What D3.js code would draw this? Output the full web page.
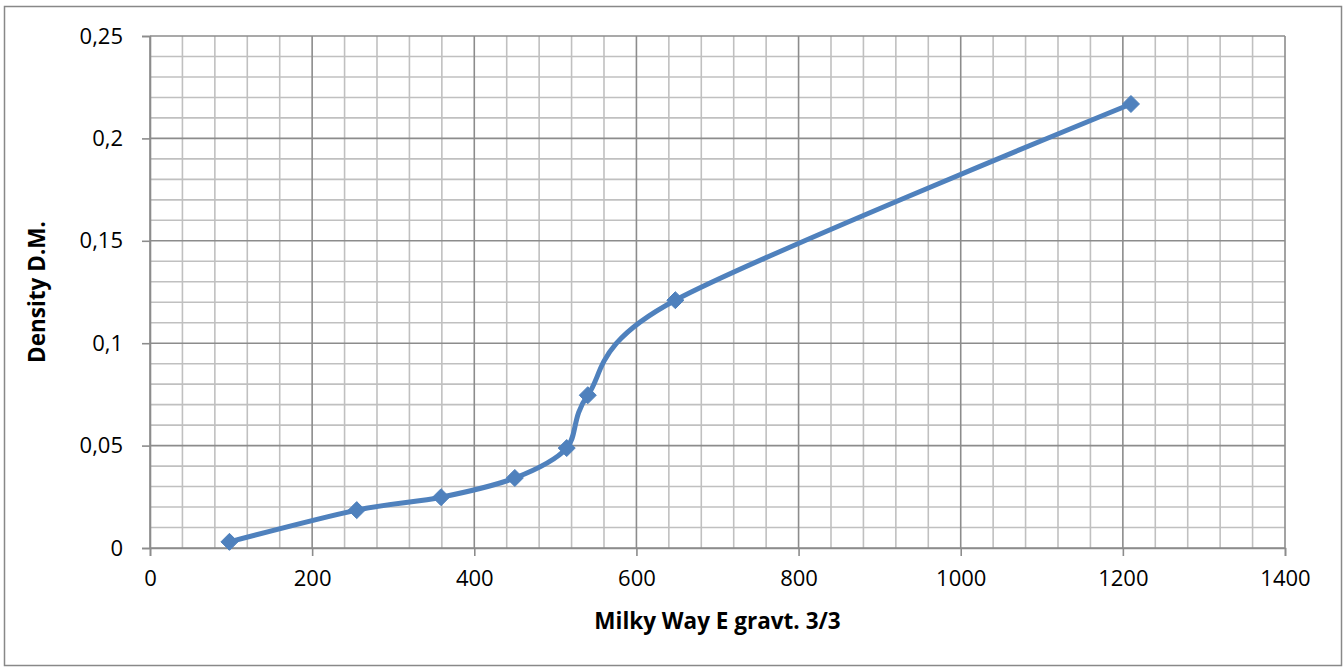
<!DOCTYPE html>
<html>
<head>
<meta charset="utf-8">
<script src="https://cdn.jsdelivr.net/npm/d3@7"></script>
<style>
  body { margin: 0; background: #fff; }
  text { font-family: "Open Sans", "Liberation Sans", sans-serif; fill: #000; }
</style>
</head>
<body>
<script>
var width = 1344;
var height = 668;

// data
var xValues = [98, 255, 359, 450, 514, 540, 648, 1210];
var yValues = [0.003, 0.0185, 0.0248, 0.0342, 0.0488, 0.0746, 0.121, 0.2168];
var xTicks = [0, 200, 400, 600, 800, 1000, 1200, 1400];
var yTicks = [0, 0.05, 0.1, 0.15, 0.2, 0.25];
var xTitle = "Milky Way E gravt. 3/3";
var yTitle = "Density D.M.";

var points = xValues.map(function(x, i) { return [x, yValues[i]]; });

var plotLeft = 150, plotRight = 1285, plotTop = 36, plotBottom = 548;

var xScale = d3.scaleLinear().domain([0, 1400]).range([plotLeft, plotRight]);
var yScale = d3.scaleLinear().domain([0, 0.25]).range([plotBottom, plotTop]);

var locale = d3.formatLocale({decimal: ",", thousands: ".", grouping: [3], currency: ["", ""]});
var fmt = function(d) { return locale.format("~g")(d); };

var svg = d3.select("body")
  .append("svg")
  .attr("width", width)
  .attr("height", height);

// outer chart border
svg.append("rect")
  .attr("x", 4.5).attr("y", 6.5)
  .attr("width", 1337).attr("height", 659)
  .attr("fill", "none")
  .attr("stroke", "#888")
  .attr("stroke-width", 1.5);

// minor grid
var minorX = d3.range(0, 1401, 40).filter(function(d) { return d % 200 !== 0; });
var minorY = d3.range(0, 26).filter(function(i) { return i % 5 !== 0; }).map(function(i) { return i / 100; });

svg.append("g").selectAll("line")
  .data(minorX)
  .enter().append("line")
  .attr("x1", function(d) { return xScale(d); })
  .attr("x2", function(d) { return xScale(d); })
  .attr("y1", plotTop).attr("y2", plotBottom)
  .attr("stroke", "#c0c0c0").attr("stroke-width", 1.6);

svg.append("g").selectAll("line")
  .data(minorY)
  .enter().append("line")
  .attr("x1", plotLeft).attr("x2", plotRight)
  .attr("y1", function(d) { return yScale(d); })
  .attr("y2", function(d) { return yScale(d); })
  .attr("stroke", "#c0c0c0").attr("stroke-width", 1.6);

// major grid
svg.append("g").selectAll("line")
  .data(xTicks)
  .enter().append("line")
  .attr("x1", function(d) { return xScale(d); })
  .attr("x2", function(d) { return xScale(d); })
  .attr("y1", plotTop).attr("y2", plotBottom)
  .attr("stroke", "#8c8c8c").attr("stroke-width", 1.6);

svg.append("g").selectAll("line")
  .data(yTicks)
  .enter().append("line")
  .attr("x1", plotLeft).attr("x2", plotRight)
  .attr("y1", function(d) { return yScale(d); })
  .attr("y2", function(d) { return yScale(d); })
  .attr("stroke", "#8c8c8c").attr("stroke-width", 1.6);

// axes
var xAxis = d3.axisBottom(xScale).tickValues(xTicks).tickSize(8).tickPadding(14).tickFormat(fmt);
var yAxis = d3.axisLeft(yScale).tickValues(yTicks).tickSize(8).tickPadding(19).tickFormat(fmt);

var gx = svg.append("g").attr("transform", "translate(0," + plotBottom + ")").call(xAxis);
var gy = svg.append("g").attr("transform", "translate(" + plotLeft + ",0)").call(yAxis);

[gx, gy].forEach(function(g) {
  g.attr("font-size", 22).attr("font-family", "'Open Sans', 'Liberation Sans', sans-serif");
  g.select(".domain").attr("stroke", "#8c8c8c").attr("stroke-width", 1.6);
  g.selectAll(".tick line").attr("stroke", "#8c8c8c").attr("stroke-width", 1.6);
  g.selectAll(".tick text").attr("fill", "#000");
});

// smoothed line
var line = d3.line()
  .x(function(d) { return xScale(d[0]); })
  .y(function(d) { return yScale(d[1]); })
  .curve(d3.curveCardinal.tension(0.1));

svg.append("path")
  .datum(points)
  .attr("d", line)
  .attr("fill", "none")
  .attr("stroke", "#4f81bd")
  .attr("stroke-width", 5)
  .attr("stroke-linejoin", "round");

// diamond markers
svg.selectAll(".marker")
  .data(points)
  .enter().append("path")
  .attr("class", "marker")
  .attr("d", d3.symbol().type(d3.symbolDiamond2).size(185))
  .attr("transform", function(d) { return "translate(" + xScale(d[0]) + "," + yScale(d[1]) + ")"; })
  .attr("fill", "#4f81bd")
  .attr("stroke", "#4f81bd")
  .attr("stroke-width", 1);

// axis titles
svg.append("text")
  .attr("x", (plotLeft + plotRight) / 2)
  .attr("y", 629)
  .attr("text-anchor", "middle")
  .attr("font-size", "22.5px")
  .attr("font-weight", "bold")
  .text(xTitle);

svg.append("text")
  .attr("transform", "translate(45," + (plotTop + plotBottom) / 2 + ") rotate(-90)")
  .attr("text-anchor", "middle")
  .attr("font-size", "22.5px")
  .attr("font-weight", "bold")
  .text(yTitle);
</script>
</body>
</html>
